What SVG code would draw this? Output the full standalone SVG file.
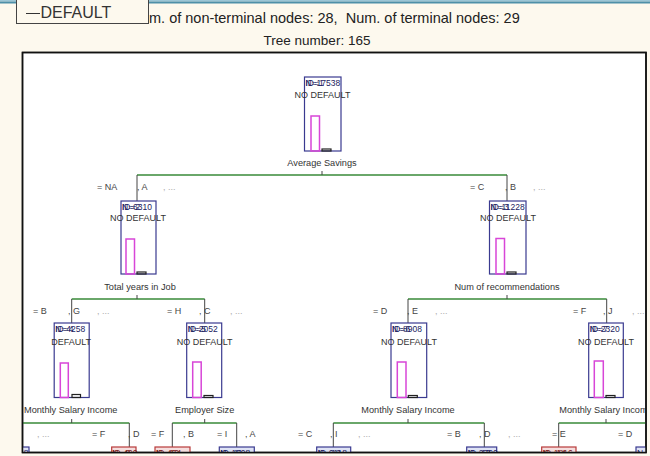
<svg xmlns="http://www.w3.org/2000/svg" width="650" height="456" viewBox="0 0 650 456">
<defs>
<clipPath id="plot"><rect x="22" y="52" width="624" height="400.5"/></clipPath>
<style>
text{font-family:"Liberation Sans",Arial,sans-serif}
.box{fill:#fff;stroke:#3a3a90;stroke-width:1.2}
.bar{fill:none;stroke:#d846d8;stroke-width:1.5}
.bar2{fill:none;stroke:#222;stroke-width:1.2}
.hdr{font-size:8.5px;fill:#1c1c60}
.cls{font-size:9px;fill:#333;text-anchor:middle}
.var{font-size:9.2px;fill:#333;text-anchor:middle}
.lbl{font-size:9px;fill:#444}
.dots{font-size:9px;fill:#aaa}
.edge{stroke:#3a8a3a;stroke-width:1.5;fill:none}
.tick{stroke:#444;stroke-width:1;fill:none}
.hb{fill:#dfe3f5;stroke:#3a3a90;stroke-width:1.2}
.hr{fill:#f5dede;stroke:#b83a3a;stroke-width:1.2}
.ht{font-size:8.5px;fill:#1c1c60}
.htr{font-size:8.5px;fill:#7a1a1a}
</style>
</defs>
<rect x="0" y="0" width="650" height="456" fill="#fdf9ee"/>
<rect x="0" y="0" width="650" height="1.5" fill="#9cc6d6"/>
<rect x="0" y="1.5" width="650" height="2" fill="#4e90a8"/>
<g id="legend">
<rect x="16.5" y="-1" width="132" height="24.5" fill="#fdf9ee" stroke="#444" stroke-width="1"/>
<line x1="26" y1="13.5" x2="40" y2="13.5" stroke="#333" stroke-width="1"/>
<text x="40.5" y="18" font-size="16" fill="#333">DEFAULT</text>
</g>
<g id="title">
<text x="149" y="23" font-size="14.5" fill="#222" xml:space="preserve">m. of non-terminal nodes: 28,  Num. of terminal nodes: 29</text>
<text x="317" y="45" font-size="13.5" fill="#222" text-anchor="middle">Tree number: 165</text>
</g>
<rect x="22.5" y="52.5" width="623.5" height="400" fill="#fff" stroke="#111" stroke-width="1.5"/>
<g clip-path="url(#plot)">
<g id="connectors">
<path class="edge" d="M137 175H507M71.7 299H204.7M408 299H606.7M11.5 423H129.3M172.3 423H236.7M333.3 423H484.3M558.7 423H660"/>
<path class="tick" d="M322 171V175M137 175V201M507 175V201M137 295V299M507 295V299M71.7 299V323M204.7 299V323M408 299V323M606.7 299V323M71.7 419V423M204.7 419V423M408 419V423M606 419V423M11.5 423V447M129.3 423V447M172.3 423V447M236.7 423V447M333.3 423V447M484.3 423V447M558.7 423V447"/>
</g>
<g id="edge-labels">
<text class="lbl" x="97" y="190">= NA</text><text class="lbl" x="137" y="190">, A</text><text class="dots" x="163" y="190">, ...</text>
<text class="lbl" x="470" y="190">= C</text><text class="lbl" x="505" y="190">, B</text><text class="dots" x="533" y="190">, ...</text>
<text class="lbl" x="33" y="314">= B</text><text class="lbl" x="68" y="314">, G</text><text class="dots" x="97" y="314">, ...</text>
<text class="lbl" x="167" y="314">= H</text><text class="lbl" x="199" y="314">, C</text><text class="dots" x="230" y="314">, ...</text>
<text class="lbl" x="373" y="314">= D</text><text class="lbl" x="407" y="314">, E</text><text class="dots" x="435" y="314">, ...</text>
<text class="lbl" x="573" y="314">= F</text><text class="lbl" x="603" y="314">, J</text><text class="dots" x="632" y="314">, ...</text>
<text class="dots" x="37" y="437">, ...</text>
<text class="lbl" x="92" y="437">= F</text><text class="lbl" x="128" y="437">, D</text>
<text class="lbl" x="151" y="437">= F</text><text class="lbl" x="183" y="437">, B</text>
<text class="lbl" x="217" y="437">= I</text><text class="lbl" x="245" y="437">, A</text>
<text class="lbl" x="298" y="437">= C</text><text class="lbl" x="330" y="437">, I</text><text class="dots" x="358" y="437">, ...</text>
<text class="lbl" x="447" y="437">= B</text><text class="lbl" x="479" y="437">, D</text><text class="dots" x="508" y="437">, ...</text>
<text class="lbl" x="552" y="437">= E</text><text class="lbl" x="618" y="437">= D</text>
</g>
<g id="n1" transform="translate(322,77)">
<rect class="box" x="-17.5" y="0" width="36.5" height="74"/>
<text class="hdr" x="-16.5" y="8.5">ID=1</text><text class="hdr" x="-16.5" y="8.5">N=17538</text>
<text class="cls" x="0.5" y="20.5">NO DEFAULT</text>
<rect class="bar" x="-11" y="39" width="8.5" height="35"/>
<rect class="bar2" x="0" y="72" width="9" height="2"/>
<text class="var" x="0" y="89">Average Savings</text>
</g>
<g id="n2" transform="translate(137,201)">
<rect class="box" x="-16" y="0" width="35" height="73"/>
<text class="hdr" x="-15" y="8.5">ID=2</text><text class="hdr" x="-15" y="8.5">N=6310</text>
<text class="cls" x="1" y="20">NO DEFAULT</text>
<rect class="bar" x="-11" y="38" width="8.5" height="35"/>
<rect class="bar2" x="0" y="71" width="9" height="2"/>
<text class="var" x="3" y="89">Total years in Job</text>
</g>
<g id="n3" transform="translate(507,201)">
<rect class="box" x="-17.5" y="0" width="36.5" height="73"/>
<text class="hdr" x="-16.5" y="8.5">ID=3</text><text class="hdr" x="-16.5" y="8.5">N=11228</text>
<text class="cls" x="1" y="20">NO DEFAULT</text>
<rect class="bar" x="-11" y="37.5" width="8.5" height="35.5"/>
<rect class="bar2" x="0" y="71" width="9" height="2"/>
<text class="var" x="0" y="89">Num of recommendations</text>
</g>
<g id="n4" transform="translate(71.7,323)">
<rect class="box" x="-17.5" y="0" width="35" height="74.5"/>
<text class="hdr" x="-16.5" y="8.5">ID=4</text><text class="hdr" x="-16.5" y="8.5">N=4258</text>
<text class="cls" x="-0.5" y="22">DEFAULT</text>
<rect class="bar" x="-11.4" y="40" width="8" height="34.5"/>
<rect class="bar2" x="0.3" y="71.5" width="8.5" height="3"/>
<text class="var" x="-1" y="90">Monthly Salary Income</text>
</g>
<g id="n5" transform="translate(204.7,323)">
<rect class="box" x="-18" y="0" width="35" height="74.5"/>
<text class="hdr" x="-17" y="8.5">ID=5</text><text class="hdr" x="-17" y="8.5">N=2052</text>
<text class="cls" x="0" y="22">NO DEFAULT</text>
<rect class="bar" x="-12" y="39" width="8.5" height="35.5"/>
<rect class="bar2" x="-0.7" y="72.5" width="9" height="2"/>
<text class="var" x="0" y="90">Employer Size</text>
</g>
<g id="n6" transform="translate(408,323)">
<rect class="box" x="-17" y="0" width="35.7" height="74.5"/>
<text class="hdr" x="-16" y="8.5">ID=6</text><text class="hdr" x="-16" y="8.5">N=8908</text>
<text class="cls" x="1" y="22">NO DEFAULT</text>
<rect class="bar" x="-10.7" y="39" width="8.7" height="35.5"/>
<rect class="bar2" x="0.3" y="72.5" width="9" height="2"/>
<text class="var" x="0" y="90">Monthly Salary Income</text>
</g>
<g id="n7" transform="translate(606,323)">
<rect class="box" x="-17.3" y="0" width="34.6" height="74.5"/>
<text class="hdr" x="-16.3" y="8.5">ID=7</text><text class="hdr" x="-16.3" y="8.5">N=2320</text>
<text class="cls" x="0" y="22">NO DEFAULT</text>
<rect class="bar" x="-11.7" y="38" width="9" height="36.5"/>
<rect class="bar2" x="0" y="72.5" width="9" height="2"/>
<text class="var" x="0" y="90">Monthly Salary Income</text>
</g>
<g id="n8"><rect class="hb" x="-6" y="447" width="35" height="12"/><text class="ht" x="28.5" y="455.5" text-anchor="end">N=3768</text></g>
<g id="n9"><rect class="hr" x="111.7" y="447" width="24.3" height="12"/><text class="htr" x="112.2" y="455.5">ID=9</text><text class="htr" x="112.2" y="455.5">N=490</text></g>
<g id="n10"><rect class="hr" x="155" y="447" width="35" height="12"/><text class="htr" x="156" y="455.5">ID=10</text><text class="htr" x="156" y="455.5">N=454</text></g>
<g id="n11"><rect class="hb" x="219.3" y="447" width="35" height="12"/><text class="ht" x="220.3" y="455.5">ID=11</text><text class="ht" x="220.3" y="455.5">N=1598</text></g>
<g id="n12"><rect class="hb" x="316.7" y="447" width="34" height="12"/><text class="ht" x="317.7" y="455.5">ID=12</text><text class="ht" x="317.7" y="455.5">N=6118</text></g>
<g id="n13"><rect class="hb" x="466.7" y="447" width="30" height="12"/><text class="ht" x="467.7" y="455.5">ID=13</text><text class="ht" x="467.7" y="455.5">N=2790</text></g>
<g id="n14"><rect class="hr" x="541.7" y="447" width="34.3" height="12"/><text class="htr" x="542.7" y="455.5">ID=14</text><text class="htr" x="542.7" y="455.5">N=1816</text></g>
<g id="n15"><rect class="hb" x="636" y="447" width="30" height="12"/><text class="ht" x="637" y="455.5">N=504</text></g>
</g>
<rect x="22.5" y="52.5" width="623.5" height="400" fill="none" stroke="#111" stroke-width="1.5"/>
</svg>
